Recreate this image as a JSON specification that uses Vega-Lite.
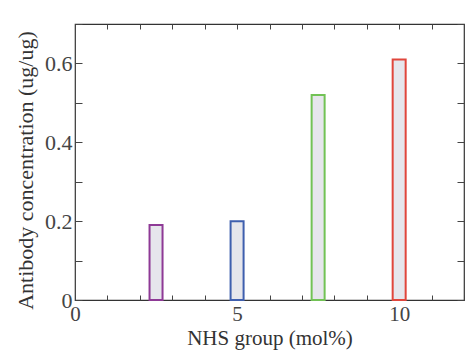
{
  "$schema": "https://vega.github.io/schema/vega-lite/v6.json",
  "autosize": "none",
  "width": 389,
  "height": 276,
  "padding": {"left": 75, "top": 24, "right": 1, "bottom": 53},
  "background": "white",
  "config": {
    "font": "Liberation Serif",
    "view": {"stroke": "#333333", "strokeWidth": 1.2},
    "scale": {"continuousPadding": 0},
    "axis": {"grid": false, "domain": false, "tickColor": "#444444", "labelColor": "#444444", "titleColor": "#333333", "labelFont": "Liberation Serif", "titleFont": "Liberation Serif", "titleFontWeight": "normal", "labelFlush": false, "labelOverlap": false, "labelFontSize": 22}
  },
  "data": {"values": [
    {"nhs": 2.5, "conc": 0.19, "grp": "a"},
    {"nhs": 5, "conc": 0.20, "grp": "b"},
    {"nhs": 7.5, "conc": 0.52, "grp": "c"},
    {"nhs": 10, "conc": 0.61, "grp": "d"}
  ]},
  "layer": [
    {
      "mark": {"type": "bar", "size": 13, "fill": "#e6e6ec", "strokeWidth": 2},
      "encoding": {
        "x": {"field": "nhs", "type": "quantitative", "scale": {"domain": [0, 12], "nice": false, "zero": true, "padding": 0},
          "axis": {"orient": "bottom", "values": [0,1,2,3,4,5,6,7,8,9,10,11,12], "tickSize": -5, "labelPadding": 8, "labelFontSize": 21, "labelFlush": false,
            "labelExpr": "datum.value % 5 === 0 ? datum.label : ''", "title": "NHS group (mol%)", "titleFontSize": 21, "titlePadding": 3}},
        "y": {"field": "conc", "type": "quantitative", "scale": {"domain": [0, 0.7], "nice": false, "padding": 0},
          "axis": {"orient": "left", "values": [0,0.1,0.2,0.3,0.4,0.5,0.6,0.7], "tickSize": -7, "labelPadding": 10, "labelFontSize": 22, "labelFlush": false,
            "labelExpr": "datum.value === 0 ? '0' : (round(datum.value*10) % 2 === 0 && datum.value < 0.65 ? format(datum.value, '.1f') : '')",
            "title": "Antibody concentration (ug/ug)", "titleFontSize": 22, "titlePadding": 7, "titleY": 146}},
        "stroke": {"field": "grp", "type": "nominal", "legend": null,
          "scale": {"domain": ["a","b","c","d"], "range": ["#8e3a96", "#3f5fae", "#72c255", "#e0463c"]}}
      }
    },
    {
      "mark": {"type": "bar", "size": 13, "opacity": 0},
      "encoding": {
        "x": {"field": "nhs", "type": "quantitative", "scale": {"domain": [0, 12], "nice": false, "padding": 0},
          "axis": {"orient": "top", "values": [0,1,2,3,4,5,6,7,8,9,10,11,12], "tickSize": -5, "labels": false, "title": null}},
        "y": {"field": "conc", "type": "quantitative", "scale": {"domain": [0, 0.7], "nice": false, "padding": 0},
          "axis": {"orient": "right", "values": [0,0.1,0.2,0.3,0.4,0.5,0.6,0.7], "tickSize": -7, "labels": false, "title": null}}
      }
    }
  ],
  "resolve": {"axis": {"x": "independent", "y": "independent"}}
}
